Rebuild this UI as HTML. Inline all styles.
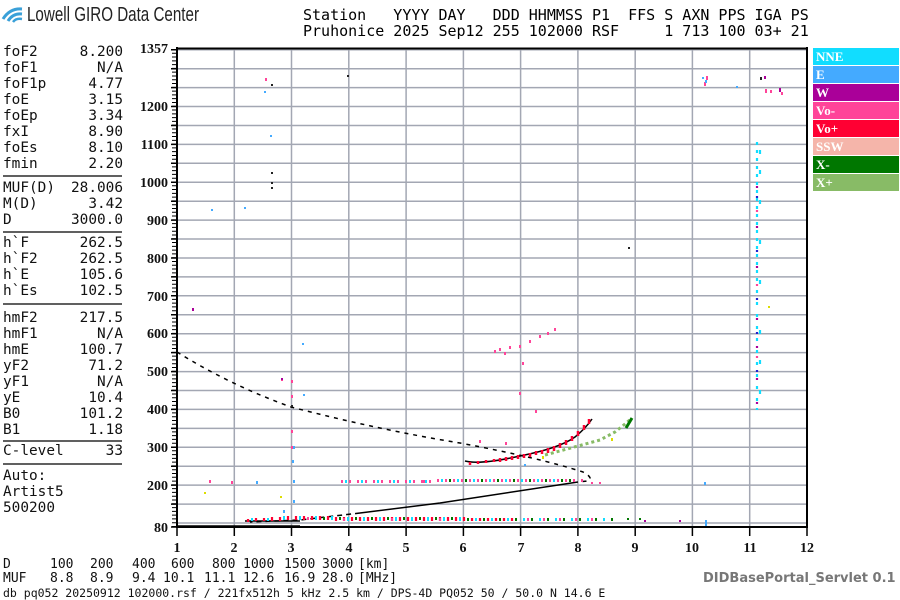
<!DOCTYPE html>
<html><head><meta charset="utf-8"><style>
body{margin:0;width:900px;height:600px;background:#fff;position:relative;overflow:hidden;font-family:"DejaVu Sans Mono","Liberation Mono",monospace;color:#111}
.a{position:absolute;white-space:pre}
.lp{font-size:14.4px;line-height:16px}
.hd{font-size:15px;line-height:16px;color:#000}
.b{position:absolute;white-space:pre;font-size:13px;line-height:14px}
.lg{position:absolute;left:813px;width:86px;height:17px;color:#fff;font:bold 13px "Liberation Serif","DejaVu Serif",serif;line-height:17px;padding-left:3px;box-sizing:border-box}
</style></head><body>
<svg class="a" style="left:0;top:0" width="900" height="600">
<path d="M3 19 Q10 8 22 9" stroke="#3aa0d8" stroke-width="3" fill="none"/>
<path d="M8 21 Q13 13 22 14" stroke="#3aa0d8" stroke-width="3" fill="none"/>
<path d="M13 22 Q16 18 22 19" stroke="#3aa0d8" stroke-width="2.5" fill="none"/>
<text x="27" y="21" font-family="Liberation Sans Narrow,Liberation Sans,sans-serif" font-size="20" fill="#222" textLength="172" lengthAdjust="spacingAndGlyphs">Lowell GIRO Data Center</text>
<g stroke="#a3a7b3" stroke-width="1.5">
<path d="M177 523H807M177 504.1H807M177 485.1H807M177 466.2H807M177 447.3H807M177 428.4H807M177 409.4H807M177 390.5H807M177 371.6H807M177 352.6H807M177 333.7H807M177 314.8H807M177 295.8H807M177 276.9H807M177 258H807M177 239H807M177 220.1H807M177 201.2H807M177 182.3H807M177 163.3H807M177 144.4H807M177 125.5H807M177 106.5H807M177 87.6H807M177 68.7H807M177 49.7H807"/>
<path d="M234.3 48V527M291.5 48V527M348.8 48V527M406.1 48V527M463.4 48V527M520.6 48V527M577.9 48V527M635.2 48V527M692.4 48V527M749.7 48V527"/>
</g>
<g stroke="#000" stroke-width="2" fill="none">
<path d="M176 48.5H808M176 527H808M177 47V528M807 47V528"/>
</g>
<line x1="174.5" y1="527" x2="174.5" y2="48" stroke="#000" stroke-width="5" stroke-dasharray="1 2.786"/>
<path d="M171 527H177M171 504.1H177M171 485.1H177M171 466.2H177M171 447.3H177M171 428.4H177M171 409.4H177M171 390.5H177M171 371.6H177M171 352.6H177M171 333.7H177M171 314.8H177M171 295.8H177M171 276.9H177M171 258H177M171 239H177M171 220.1H177M171 201.2H177M171 182.3H177M171 163.3H177M171 144.4H177M171 125.5H177M171 106.5H177M171 87.6H177M171 68.7H177M171 49.7H177M177 527V536M234.3 527V536M291.5 527V536M348.8 527V536M406.1 527V536M463.4 527V536M520.6 527V536M577.9 527V536M635.2 527V536M692.4 527V536M749.7 527V536M807 527V536" stroke="#000" stroke-width="1.5"/>
<g font-family="Liberation Serif,DejaVu Serif,serif" font-weight="bold" font-size="14" text-anchor="end" fill="#111">
<text x="168" y="53">1357</text><text x="168" y="111">1200</text><text x="168" y="149">1100</text><text x="168" y="187">1000</text><text x="168" y="225">900</text><text x="168" y="263">800</text><text x="168" y="301">700</text><text x="168" y="338">600</text><text x="168" y="376">500</text><text x="168" y="414">400</text><text x="168" y="452">300</text><text x="168" y="490">200</text><text x="168" y="532">80</text>
</g>
<g font-family="Liberation Serif,DejaVu Serif,serif" font-weight="bold" font-size="14" text-anchor="middle" fill="#111">
<text x="177" y="552">1</text><text x="234" y="552">2</text><text x="291" y="552">3</text><text x="349" y="552">4</text><text x="406" y="552">5</text><text x="463" y="552">6</text><text x="521" y="552">7</text><text x="578" y="552">8</text><text x="635" y="552">9</text><text x="692" y="552">10</text><text x="750" y="552">11</text><text x="807" y="552">12</text>
</g>
<path d="M3 176H122M3 232H122M3 304H122M3 441H122M3 464H122" stroke="#000" stroke-width="1.2"/>
<g fill="none" stroke="#000" stroke-width="1.5">
<path d="M177 352 Q230 385 291 407 Q380 430 460 443 Q540 458 583 472 Q594 478 588 481 L578 482" stroke-dasharray="4 5"/>
<path d="M578 482 L440 503 L360 513"/>
<path d="M360 513 L300 520 L250 522" stroke-dasharray="5 4"/>
<path d="M177 526 H300 M245 521 H300"/>
<path d="M465 461 Q480 465 520 456 Q560 448 575 437 Q586 428 592 419"/>
</g>
<path d="M545 455 L600 440 L615 432 L625 424 L632 418" stroke="#88bb66" stroke-width="3" stroke-dasharray="3 3" fill="none"/>
<path d="M626 428 L632 418" stroke="#007700" stroke-width="3" fill="none"/>
<path d="M470 462v3M478 461v3M486 460v3M494 459v3M500 458v4M506 457v4M512 456v4M518 455v4M524 454v4M530 453v4M536 451v4M542 450v4M548 448v5M554 446v5M560 443v5M566 440v5M572 436v5M578 431v5M584 425v5M589 419v5" stroke="#ff0033" stroke-width="2.5"/>
<path d="M342 480v3M350 480v3M358 480v3M366 480v3M374 480v3M382 480v3M390 480v3M398 480v3M406 480v3M414 480v3M422 480v3M430 480v3M438 479v3M446 479v3M454 479v3M462 479v3M470 479v3M478 479v3M486 479v3M494 479v3M502 479v3M510 479v3M518 479v3M526 479v3M534 479v3M542 479v3M550 479v3M558 479v3M566 479v3M574 479v3M582 479v3M592 482v2M600 482v2" stroke="#ff4499" stroke-width="2"/>
<path d="M346 480v3M362 480v3M378 480v3M394 480v3M410 480v3M426 480v3M442 479v3M458 479v3M474 479v3M490 479v3M506 479v3M522 479v3M538 479v3M554 479v3" stroke="#11ddff" stroke-width="2"/>
<path d="M450 479v3M466 479v3M482 479v3M498 479v3M514 479v3M530 479v3M546 479v3M562 479v3M570 479v3" stroke="#007700" stroke-width="2"/>
<path d="M248 519v3M256 518v3M264 518v3M272 517v4M280 517v4M288 516v4M296 516v4M304 516v4M312 516v4M320 516v4M328 516v4M336 517v4M344 517v4M352 517v4M360 517v4M368 517v4M376 517v4M384 517v4M392 517v4M400 517v4M408 517v4M416 517v4M424 517v4M432 517v4M440 517v4M448 517v4M456 517v4M464 517v4M472 518v3M480 518v3M488 518v3M496 518v3M504 518v3M512 518v3" stroke="#ff0033" stroke-width="2.2"/>
<path d="M252 518v3M268 518v3M284 516v4M300 516v4M316 516v4M332 516v4M348 517v4M364 517v4M380 517v4M396 517v4M412 517v4M428 517v4M444 517v4M460 517v4M476 518v3M492 518v3M508 518v3M524 518v3M540 518v3M556 518v3M572 518v3M588 518v3M604 518v3" stroke="#11ddff" stroke-width="2"/>
<path d="M324 517v3M340 517v3M356 517v3M372 517v3M388 517v3M404 517v3M420 517v3M436 517v3M452 517v3M468 518v3M484 518v3M500 518v3M516 518v3M532 518v3M548 518v3M564 518v3M580 518v3M596 518v3M612 518v3M628 518v2M640 518v2" stroke="#007700" stroke-width="2"/>
<path d="M308 517v3M344 518v3M392 518v3M440 518v3M528 518v3M544 518v3M560 518v3M576 518v3M592 518v3" stroke="#ff4499" stroke-width="2"/>
<path d="M757 142v3M757 150v3M757 158v3M757 166v3M757 174v3M757 182v3M757 190v3M757 198v3M757 206v3M757 214v3M757 222v3M757 230v3M757 238v3M757 246v3M757 254v3M757 262v3M757 270v3M757 278v3M757 290v3M757 302v3M757 314v3M757 326v3M757 338v3M757 350v3M757 362v3M757 374v3M757 386v3M757 398v3M757 408v2M760 150v4M760 170v4M760 200v4M760 240v4M760 280v4M760 330v4M760 360v4M760 390v4" stroke="#11ddff" stroke-width="2.2"/>
<path d="M757 186v2M757 226v2M757 266v2M757 318v2M757 346v2M757 378v2M757 402v2" stroke="#aa0099" stroke-width="2.2"/>
<path d="M757 196v2M757 250v2M757 298v2M757 332v2M757 370v2" stroke="#2222cc" stroke-width="2.2"/>
<path d="M757 210v2M757 284v2M757 356v2" stroke="#ff4499" stroke-width="2.2"/>
<path d="M495 350v3M500 348v3M505 352v3M510 346v3M520 345v3M530 340v3M540 335v3M548 332v3M555 328v3M523 362v3M520 392v3M536 410v3M480 440v3M506 442v3M424 480v3M193 308v3M292 380v3M292 395v3M292 430v3M292 446v3M282 378v3M210 480v3M232 481v3M266 78v3M766 89v4M771 90v3M707 76v4M705 82v4M782 92v3" stroke="#ff4499" stroke-width="2"/>
<path d="M703 77v2M706 80v3M737 86v2M212 209v2M245 207v2M303 343v2M294 446v3M293 460v3M294 480v3M294 500v3M284 510v3M257 481v3M265 91v2M271 135v2M304 394v2M525 464v2M705 482v3M706 520v6" stroke="#44aaff" stroke-width="2"/>
<path d="M272 84v2M272 172v2M272 182v2M272 187v2M348 75v2M629 247v2M282 378v2M292 405v2M761 77v3" stroke="#222" stroke-width="2"/>
<path d="M193 308v3M282 378v2M765 76v3M780 88v4M645 520v2M680 520v2" stroke="#aa0099" stroke-width="2"/>
<path d="M205 492v2M281 496v2M769 306v2M543 456v3M612 438v3" stroke="#dddd00" stroke-width="2"/>
</svg>
<div class="a hd" style="left:303px;top:7px">Station   YYYY DAY   DDD HHMMSS P1  FFS S AXN PPS IGA PS
Pruhonice 2025 Sep12 255 102000 RSF     1 713 100 03+ 21</div>
<div class="a lp" style="left:3px;top:44px">foF2
foF1
foF1p
foE
foEp
fxI
foEs
fmin</div>
<div class="a lp" style="left:3px;top:44px;width:120px;text-align:right">8.200
N/A
4.77
3.15
3.34
8.90
8.10
2.20</div>
<div class="a lp" style="left:3px;top:180px">MUF(D)
M(D)
D</div>
<div class="a lp" style="left:3px;top:180px;width:120px;text-align:right">28.006
3.42
3000.0</div>
<div class="a lp" style="left:3px;top:235px">h`F
h`F2
h`E
h`Es</div>
<div class="a lp" style="left:3px;top:235px;width:120px;text-align:right">262.5
262.5
105.6
102.5</div>
<div class="a lp" style="left:3px;top:310px">hmF2
hmF1
hmE
yF2
yF1
yE
B0
B1</div>
<div class="a lp" style="left:3px;top:310px;width:120px;text-align:right">217.5
N/A
100.7
71.2
N/A
10.4
101.2
1.18</div>
<div class="a lp" style="left:3px;top:443px">C-level</div>
<div class="a lp" style="left:3px;top:443px;width:120px;text-align:right">33</div>
<div class="a lp" style="left:3px;top:468px">Auto:
Artist5
500200</div>
<div class="lg" style="top:48px;background:#11ddff">NNE</div>
<div class="lg" style="top:66px;background:#44aaff">E</div>
<div class="lg" style="top:84px;background:#aa0099">W</div>
<div class="lg" style="top:102px;background:#ff4499">Vo-</div>
<div class="lg" style="top:120px;background:#ff0033">Vo+</div>
<div class="lg" style="top:138px;background:#f5b5aa">SSW</div>
<div class="lg" style="top:156px;background:#007700">X-</div>
<div class="lg" style="top:174px;background:#88bb66">X+</div>
<span class="b" style="left:3px;top:558px">D</span>
<span class="b" style="left:3px;top:572px">MUF</span>
<span class="b" style="left:50px;top:558px">100</span><span class="b" style="left:90px;top:558px">200</span><span class="b" style="left:132px;top:558px">400</span><span class="b" style="left:171px;top:558px">600</span><span class="b" style="left:212px;top:558px">800</span><span class="b" style="left:243px;top:558px">1000</span><span class="b" style="left:284px;top:558px">1500</span><span class="b" style="left:322px;top:558px">3000</span><span class="b" style="left:358px;top:558px">[km]</span>
<span class="b" style="left:50px;top:572px">8.8</span><span class="b" style="left:90px;top:572px">8.9</span><span class="b" style="left:132px;top:572px">9.4</span><span class="b" style="left:163px;top:572px">10.1</span><span class="b" style="left:204px;top:572px">11.1</span><span class="b" style="left:243px;top:572px">12.6</span><span class="b" style="left:284px;top:572px">16.9</span><span class="b" style="left:322px;top:572px">28.0</span><span class="b" style="left:358px;top:572px">[MHz]</span>
<div class="a" style="left:3px;top:586px;font-size:11.5px;line-height:14px">db pq052 20250912 102000.rsf / 221fx512h 5 kHz 2.5 km / DPS-4D PQ052 50 / 50.0 N 14.6 E</div>
<div class="a" style="left:703px;top:571px;font:bold 13px 'DejaVu Sans',sans-serif;color:#777">DIDBasePortal_Servlet 0.1</div>
</body></html>
